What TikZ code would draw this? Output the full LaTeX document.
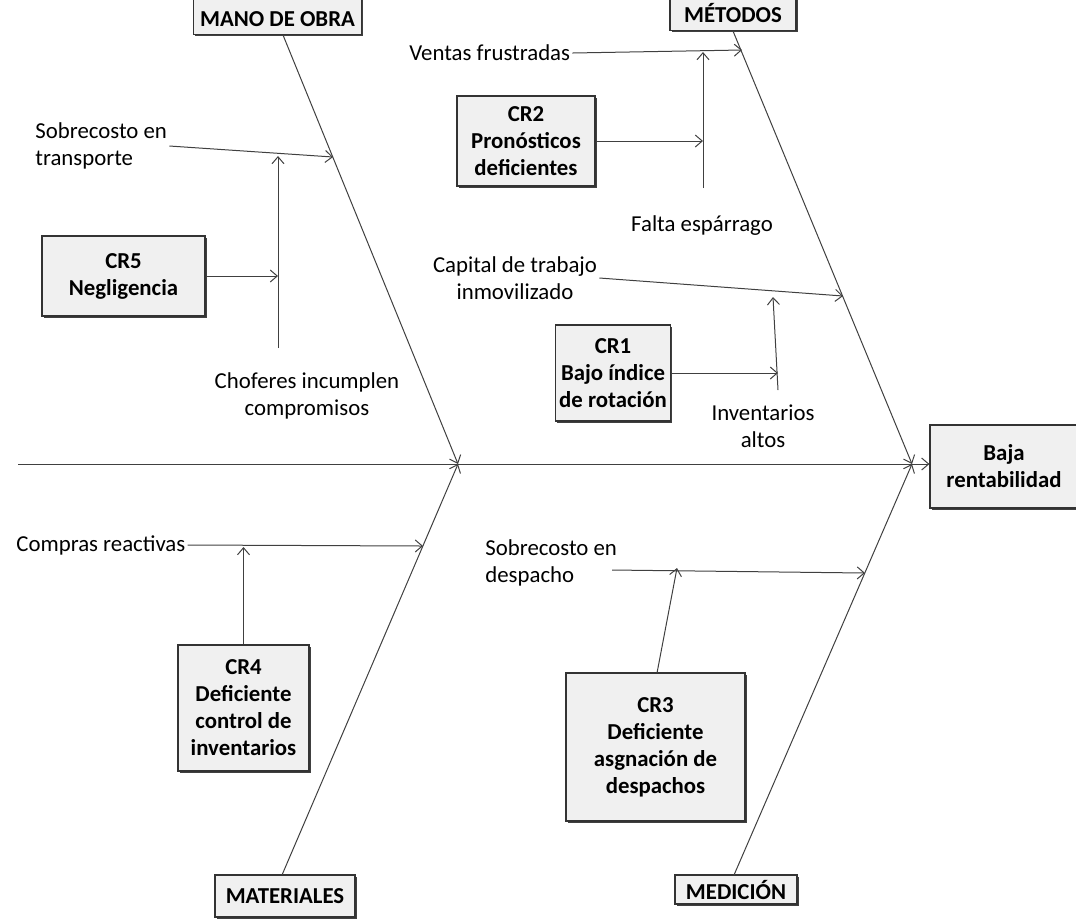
\documentclass[tikz,border=0pt]{standalone}
\usepackage{fontspec}
\setmainfont{Carlito}
\usetikzlibrary{arrows.meta,shadows}

\newcommand\diagfont{\fontsize{11.4}{13.5}\selectfont}

\tikzset{
  boxed/.style={draw=black!80, fill=black!6, line width=0.6pt, align=center, font=\diagfont\bfseries,
    drop shadow={shadow xshift=0.8pt, shadow yshift=-0.8pt, fill=black!75, opacity=1}},
  cause/.style={boxed, inner sep=2pt},
  category/.style={boxed, inner ysep=1pt},
  note/.style={align=center, inner sep=1pt},
  bone/.style={draw=black!75, line width=0.5pt, -{Straight Barb[length=3.5pt, width=6pt]}},
}

\begin{document}
\begin{tikzpicture}[x=0.5pt, y=-0.5pt, font=\diagfont]

  \useasboundingbox (0,0) rectangle (1076,918);

  % categories and effect
  \node (mano) at (277.5,35) [category, anchor=south, minimum width=82.5pt, text height=16pt, text depth=3pt] {MANO DE OBRA};

  \node (metodos) at (733,31) [category, anchor=south, minimum width=63pt, text height=16pt, text depth=3pt] {MÉTODOS};

  \node (materiales) at (285,896) [category, minimum width=70pt, minimum height=21pt] {MATERIALES};

  \node (medicion) at (736,889.5) [category, minimum width=61pt, minimum height=14.5pt] {MEDICIÓN};

  \node (effect) at (1004,466.5) [boxed, minimum width=74pt, minimum height=41.5pt] {Baja\\rentabilidad};

  % root causes
  \node (cr5) at (123.5,276) [cause, minimum width=81.5pt, minimum height=40pt] {CR5\\Negligencia};

  \node (cr2) at (526,141) [cause, minimum width=69pt, minimum height=45pt] {CR2\\Pronósticos\\deficientes};

  \node (cr1) at (613,373) [cause, minimum width=56pt, minimum height=48pt] {CR1\\Bajo índice\\de rotación};

  \node (cr4) at (243.5,708) [cause, minimum width=65.5pt, minimum height=63pt] {CR4\\Deficiente\\control de\\inventarios};

  \node (cr3) at (655.5,747) [cause, minimum width=89.5pt, minimum height=74pt] {CR3\\Deficiente\\asgnación de\\despachos};

  % effects of the causes
  \node (transporte) at (33,146) [note, anchor=west, align=left] {Sobrecosto en\\transporte};

  \node (choferes) at (307,396) [note] {Choferes incumplen\\compromisos};

  \node (ventas) at (407,53) [note, anchor=west] {Ventas frustradas};

  \node (esparrago) at (702,226) [note] {Falta espárrago};

  \node (capital) at (515,278) [note] {Capital de trabajo\\inmovilizado};

  \node (inventarios) at (763,426) [note] {Inventarios\\altos};

  \node (compras) at (14,545) [note, anchor=west] {Compras reactivas};

  \node (despacho) at (483,563) [note, anchor=west, align=left] {Sobrecosto en\\despacho};

  % points on the bones
  \coordinate (tail) at (18,464);
  \coordinate (jleft) at (458,464);
  \coordinate (jright) at (912,464);
  \coordinate (b-transporte) at (333,157);
  \coordinate (b-ventas) at (742,50);
  \coordinate (b-capital) at (843,296);
  \coordinate (b-compras) at (423,546);
  \coordinate (b-despacho) at (865,573);

  % spine and bones
  \draw[bone] (tail) -- (tail -| effect.west);
  \draw[bone] (283,35) -- (jleft);
  \draw[bone] (282,875) -- (jleft);
  \draw[bone] (733,31) -- (jright);
  \draw[bone] (734,875) -- (jright);

  % branches
  \draw[bone] (transporte.east) -- (b-transporte);
  \draw[bone] (278,348) -- (278,156);
  \draw[bone] (cr5.east) -- (278,276);

  \draw[bone] (ventas.east) -- (b-ventas);
  \draw[bone] (703,188) -- (703,52);
  \draw[bone] (cr2.east) -- (703,141);

  \draw[bone] (capital.east) -- (b-capital);
  \draw[bone] (778,390) -- (773,297);
  \draw[bone] (cr1.east) -- (778,373);

  \draw[bone] (compras.east) -- (b-compras);
  \draw[bone] (cr4.north) -- (cr4.north |- 0,547);

  \draw[bone] (612,570) -- (b-despacho);
  \draw[bone] (657,673) -- (677,568);

\end{tikzpicture}
\end{document}
